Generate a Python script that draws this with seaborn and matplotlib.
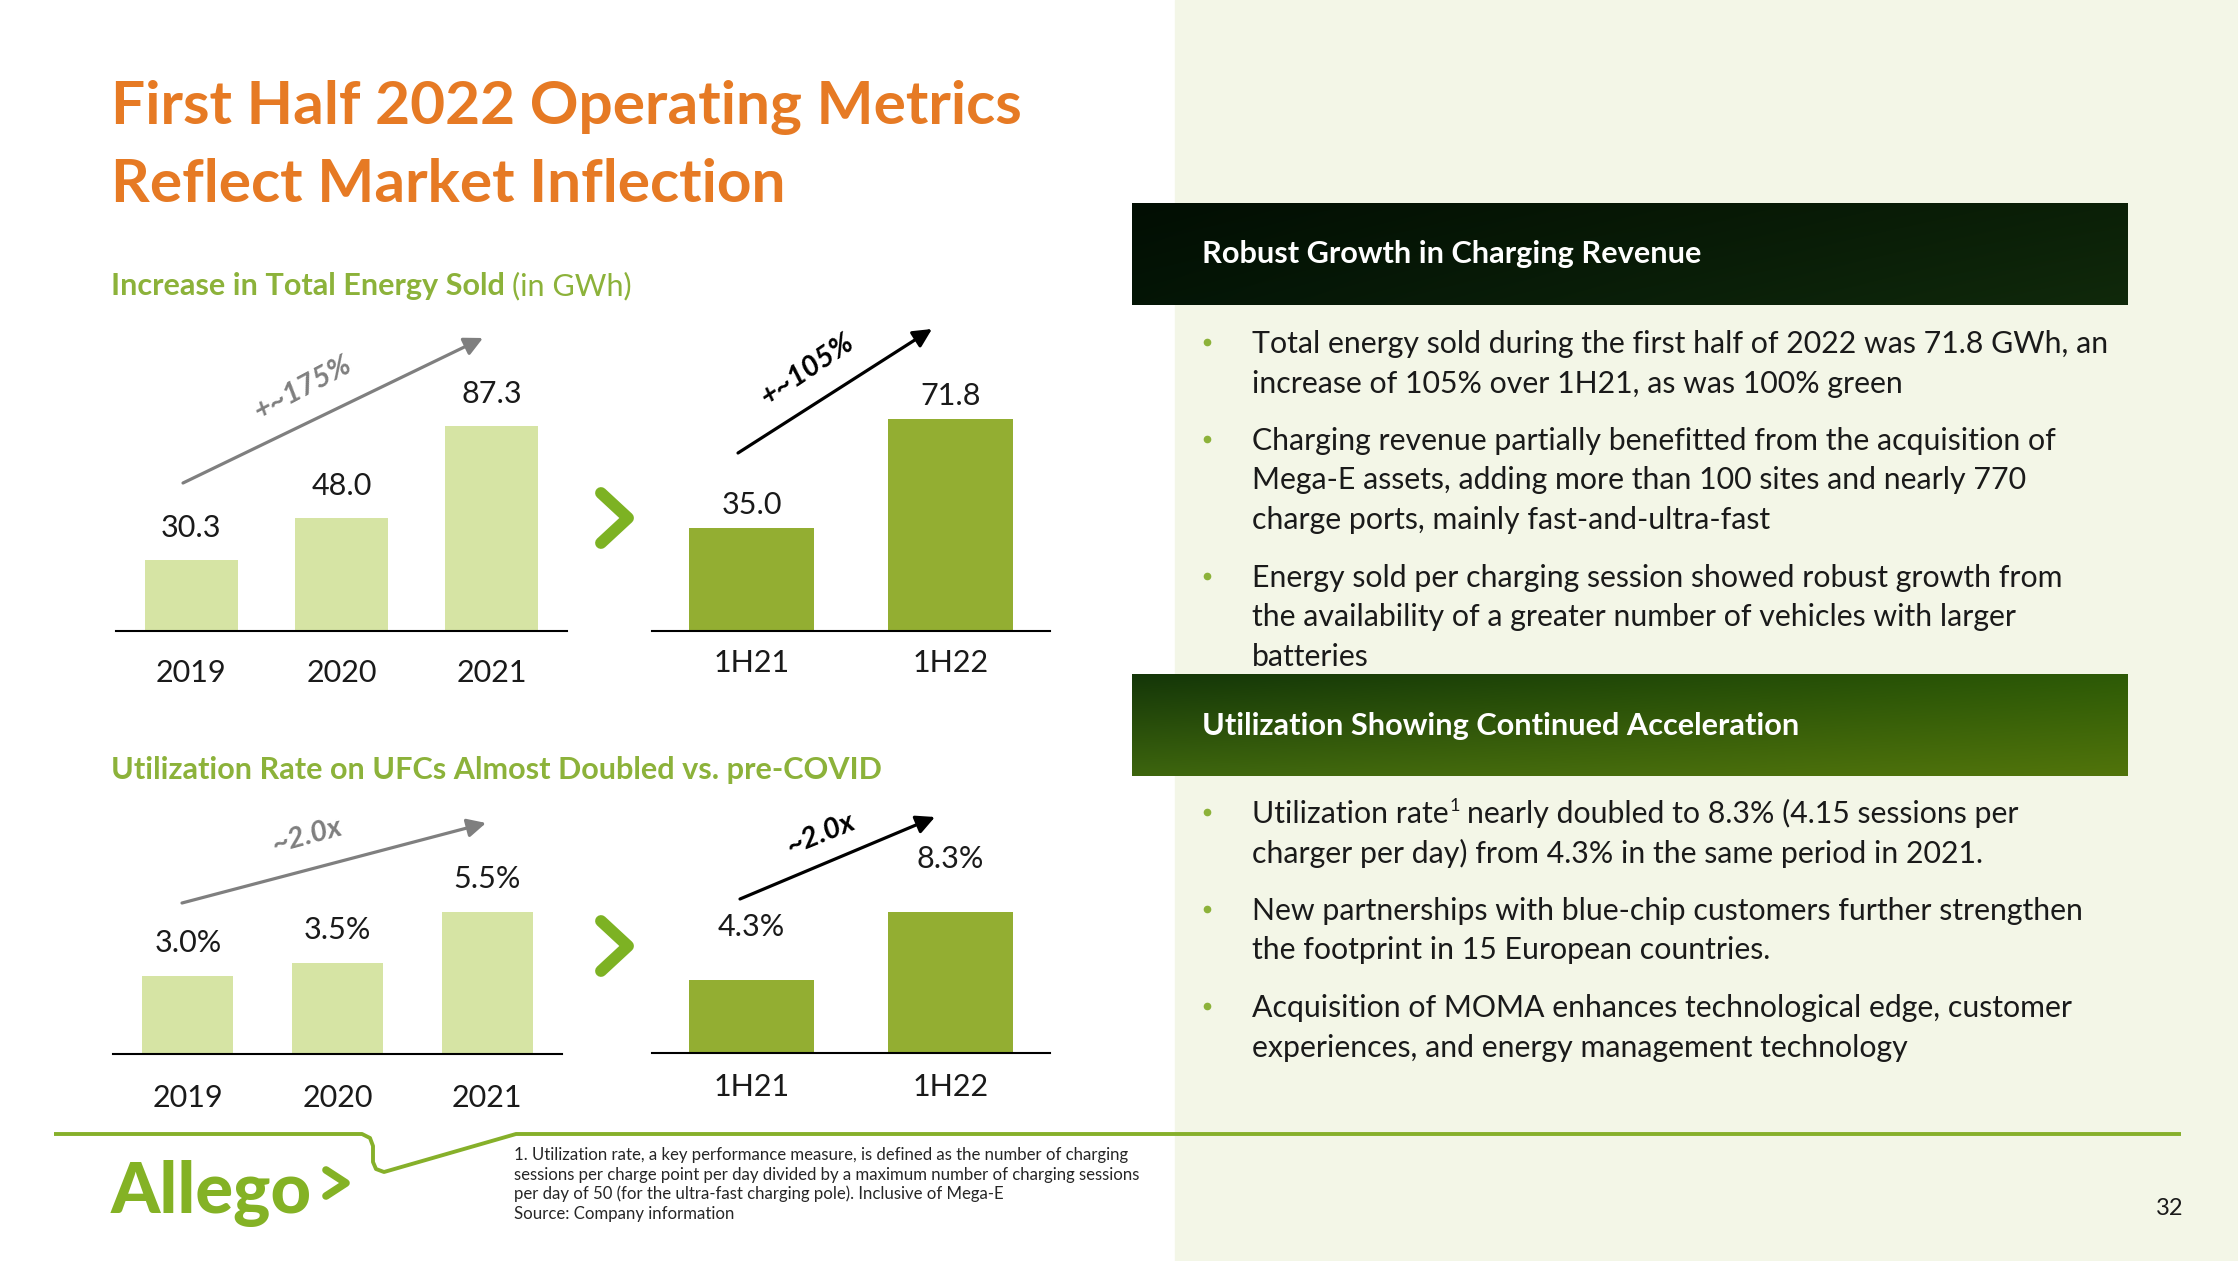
import numpy as np
import pandas as pd
import matplotlib
matplotlib.use("Agg")
import matplotlib.pyplot as plt
import seaborn as sns
from matplotlib.patches import Rectangle

# ---------------- data ----------------
energy_years = ["2019", "2020", "2021"]
energy_year_values = [30.3, 48.0, 87.3]
energy_halves = ["1H21", "1H22"]
energy_half_values = [35.0, 71.8]
util_years = ["2019", "2020", "2021"]
util_year_values = [3.0, 3.5, 5.5]
util_halves = ["1H21", "1H22"]
util_half_values = [4.3, 8.3]
growth_labels = ["+~175%", "+~105%", "~2.0x", "~2.0x"]

title_lines = ["First Half 2022 Operating Metrics", "Reflect Market Inflection"]
subtitle1_bold = "Increase in Total Energy Sold"
subtitle1_reg = "(in GWh)"
subtitle2 = "Utilization Rate on UFCs Almost Doubled vs. pre-COVID"
header1 = "Robust Growth in Charging Revenue"
header2 = "Utilization Showing Continued Acceleration"
bullets1 = [
    ["Total energy sold during the first half of 2022 was 71.8 GWh, an",
     "increase of 105% over 1H21, as was 100% green"],
    ["Charging revenue partially benefitted from the acquisition of",
     "Mega-E assets, adding more than 100 sites and nearly 770",
     "charge ports, mainly fast-and-ultra-fast"],
    ["Energy sold per charging session showed robust growth from",
     "the availability of a greater number of vehicles with larger",
     "batteries"],
]
bullets2 = [
    ["Utilization rate|1| nearly doubled to 8.3% (4.15 sessions per",
     "charger per day) from 4.3% in the same period in 2021."],
    ["New partnerships with blue-chip customers further strengthen",
     "the footprint in 15 European countries."],
    ["Acquisition of MOMA enhances technological edge, customer",
     "experiences, and energy management technology"],
]
footnote = [
    "1. Utilization rate, a key performance measure, is defined as the number of charging",
    "sessions per charge point per day divided by a maximum number of charging sessions",
    "per day of 50 (for the ultra-fast charging pole). Inclusive of Mega-E",
    "Source: Company information",
]
page_number = "32"
logo_text = "Allego"

# ---------------- style ----------------
ORANGE = "#E67A24"
GREEN_TXT = "#8CB23A"
LIGHT_BAR = "#D6E4A4"
DARK_BAR = "#93AE32"
CHEVRON = "#7DB223"
LINE_GREEN = "#86B02A"
PANEL = "#F3F6E7"
TXT = "#1A1A1A"
GREY = "#7F7F7F"

sns.set_theme(style="white")
plt.rcParams["font.family"] = ["Lato", "DejaVu Sans"]

W, H = 2238, 1261
fig = plt.figure(figsize=(W / 100, H / 100), dpi=100)
fig.patch.set_facecolor("white")

bg = fig.add_axes([0, 0, 1, 1], zorder=0)
bg.set_xlim(0, W)
bg.set_ylim(H, 0)
bg.axis("off")

fig.canvas.draw()
R = fig.canvas.get_renderer()


def text_width(s, size, **kw):
    t = bg.text(0, 0, s, fontsize=size, **kw)
    w = t.get_window_extent(R).width
    t.remove()
    return w


def fit(s, target, **kw):
    return 30 * target / text_width(s, 30, **kw)


# right panel
bg.add_patch(Rectangle((1175, 0), W - 1175, H, color=PANEL, zorder=0))


def gradient_box(x0, x1, y0, y1, tl, tr, bl, br):
    c = lambda h: np.array(matplotlib.colors.to_rgb(h))
    ny, nx = 60, 200
    u = np.linspace(0, 1, nx)[None, :, None]
    v = np.linspace(0, 1, ny)[:, None, None]
    img = (c(tl) * (1 - u) * (1 - v) + c(tr) * u * (1 - v)
           + c(bl) * (1 - u) * v + c(br) * u * v)
    bg.imshow(img, extent=(x0, x1, y1, y0), aspect="auto", zorder=1,
              interpolation="bilinear")


gradient_box(1132, 2128, 203, 305, "#020E03", "#0B2007", "#041506", "#10290B")
gradient_box(1132, 2128, 674, 776, "#143608", "#2D5A06", "#3D650E", "#51740B")
bg.set_xlim(0, W)
bg.set_ylim(H, 0)

# title
ts = fit(title_lines[0], 911, fontweight="bold")
bg.text(111, 124, title_lines[0], fontsize=ts, fontweight="bold", color=ORANGE, va="baseline")
bg.text(111, 202, title_lines[1], fontsize=ts, fontweight="bold", color=ORANGE, va="baseline")

# subtitles
ss = fit(subtitle1_bold, 393, fontweight="bold")
t = bg.text(111, 295, subtitle1_bold, fontsize=ss, fontweight="bold", color=GREEN_TXT, va="baseline")
ext = t.get_window_extent(R)
bg.text(ext.x1 + 7, 295, subtitle1_reg, fontsize=ss, color=GREEN_TXT, va="baseline")
bg.text(111, 779, subtitle2, fontsize=ss, fontweight="bold", color=GREEN_TXT, va="baseline")

NUM_FS = 22


# ---------------- bar charts ----------------
def draw_bars(cats, vals, color, x0, x1, ybase, px_per_unit, width, fmt, lab_gap, tick_gap):
    hpx = 450
    ax = fig.add_axes([x0 / W, 1 - ybase / H, (x1 - x0) / W, hpx / H], zorder=2)
    df = pd.DataFrame({"cat": cats, "val": vals})
    sns.barplot(data=df, x="cat", y="val", color=color, saturation=1, width=width,
                ax=ax, errorbar=None, linewidth=0)
    ax.set_xlim(-0.5, len(cats) - 0.5)
    ax.set_ylim(0, hpx / px_per_unit)
    ax.set_facecolor("none")
    sns.despine(ax=ax, left=True)
    ax.spines["bottom"].set_color("black")
    ax.spines["bottom"].set_linewidth(1.5)
    ax.set_yticks([])
    ax.set_xlabel("")
    ax.set_ylabel("")
    ax.tick_params(axis="x", length=0, pad=tick_gap * 0.72, labelsize=NUM_FS, labelcolor=TXT)
    plt.setp(ax.get_xticklabels(), va="baseline")
    for i, v in enumerate(vals):
        ax.annotate(fmt(v), (i, v), xytext=(0, lab_gap), textcoords="offset pixels",
                    ha="center", va="baseline", fontsize=NUM_FS, color=TXT)
    return ax


num = lambda v: f"{v:.1f}"
pct = lambda v: f"{v:.1f}%"

draw_bars(energy_years, energy_year_values, LIGHT_BAR, 116, 567, 631, 2.345, 0.62, num, 23, 51)
draw_bars(energy_halves, energy_half_values, DARK_BAR, 652, 1050, 631, 2.95, 0.63, num, 14, 41)
draw_bars(util_years, util_year_values, LIGHT_BAR, 113, 562, 1054, 25.9, 0.61, pct, 24, 53)
draw_bars(util_halves, util_half_values, DARK_BAR, 652, 1050, 1053, 17.0, 0.63, pct, 44, 43)


# growth arrows
def arrow(p0, p1, color):
    bg.annotate("", xy=p1, xytext=p0,
                arrowprops=dict(arrowstyle="-|>", color=color, lw=2.3,
                                mutation_scale=28, shrinkA=0, shrinkB=0))


arrow((183, 483), (483, 338), GREY)
arrow((738, 453), (932, 329), "black")
arrow((182, 903), (486, 823), GREY)
arrow((740, 899), (935, 817), "black")

gl_kw = dict(fontsize=21, fontweight="bold", fontstyle="italic", ha="center", va="center",
             rotation_mode="anchor")
bg.text(303, 388, growth_labels[0], color=GREY, rotation=28, **gl_kw)
bg.text(807, 370, growth_labels[1], color="black", rotation=34, **gl_kw)
bg.text(307, 836, growth_labels[2], color=GREY, rotation=15, **gl_kw)
bg.text(821, 834, growth_labels[3], color="black", rotation=22, **gl_kw)

# chevrons between charts
for cy in (518, 946):
    bg.plot([601, 628, 601], [cy - 25, cy, cy + 25], color=CHEVRON, lw=8.5,
            solid_capstyle="round", solid_joinstyle="round", zorder=3)

# ---------------- right panel text ----------------
hs = fit(header1, 499, fontweight="bold")
bg.text(1202, 263, header1, fontsize=hs, fontweight="bold", color="white", va="baseline", zorder=3)
bg.text(1202, 735, header2, fontsize=hs, fontweight="bold", color="white", va="baseline", zorder=3)

bs = fit(bullets1[0][0], 857)
LINE_H, PARA_GAP = 39.5, 57.5


def bullet_block(paras, y0):
    y = y0
    for para in paras:
        bg.plot([1207], [y - 11], "o", ms=4.5, color=GREEN_TXT, zorder=3)
        for j, line in enumerate(para):
            if j > 0:
                y += LINE_H
            if "|" in line:
                a, sup, b = line.split("|")
                t1 = bg.text(1252, y, a, fontsize=bs, color=TXT, va="baseline", zorder=3)
                e1 = t1.get_window_extent(R)
                t2 = bg.text(e1.x1 + 1, y - 12, sup, fontsize=bs * 0.6, color=TXT,
                             va="baseline", zorder=3)
                e2 = t2.get_window_extent(R)
                bg.text(e2.x1 + bs * 0.3, y, b.strip(), fontsize=bs, color=TXT,
                        va="baseline", zorder=3)
            else:
                bg.text(1252, y, line, fontsize=bs, color=TXT, va="baseline", zorder=3)
        y += PARA_GAP


bullet_block(bullets1, 353)
bullet_block(bullets2, 823)

# ---------------- footer ----------------
fx = [54, 362, 370, 373, 373, 376, 384, 516, 2181]
fy = [1134, 1134, 1138, 1146, 1162, 1169, 1172, 1134, 1134]
bg.plot(fx, fy, color=LINE_GREEN, lw=2.8, solid_joinstyle="round", solid_capstyle="butt", zorder=3)

fs = fit(footnote[0], 615)
for k, line in enumerate(footnote):
    bg.text(514, 1160 + 19.7 * k, line, fontsize=fs, color="#262626", va="baseline", zorder=3)

ls = fit(logo_text, 200, fontweight="black")
bg.text(111, 1213, logo_text, fontsize=ls, fontweight="black", color="#84B225", va="baseline", zorder=3)
bg.plot([326, 346, 326], [1170, 1183, 1196], color="#84B225", lw=5.5,
        solid_capstyle="round", solid_joinstyle="round", zorder=3)

bg.text(2183, 1215, page_number, fontsize=17, color=TXT, ha="right", va="baseline", zorder=3)

fig.savefig("out.png", dpi=100, facecolor="white")
